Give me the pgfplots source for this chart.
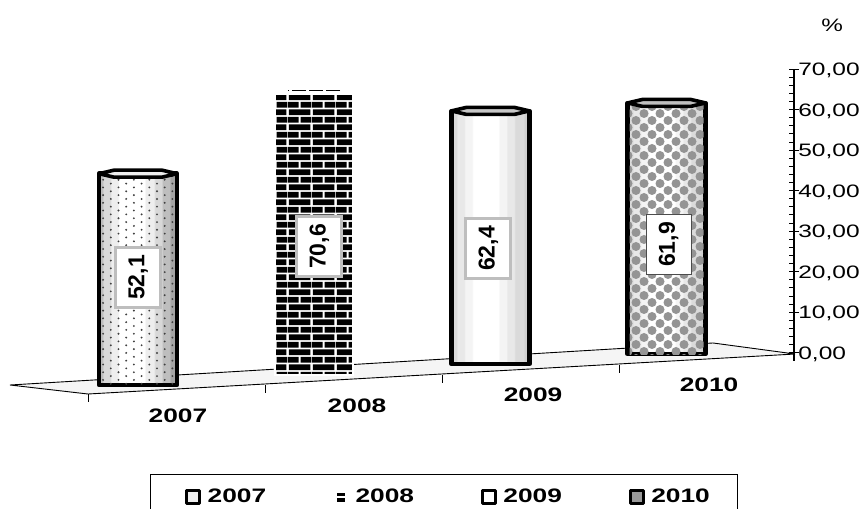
\documentclass[border=0pt]{standalone}
\usepackage{fontspec}
\setmainfont{Liberation Sans}
\usepackage{pgfplots}
\pgfplotsset{compat=1.18}
\usetikzlibrary{patterns}

\definecolor{floorgray}{HTML}{F5F5F5}
\definecolor{labelgray}{HTML}{BEBEBE}
\definecolor{c1}{HTML}{BEBEBE}
\definecolor{c2}{HTML}{D8D8D8}
\definecolor{c3}{HTML}{EEEEEE}
\definecolor{c4}{HTML}{A4A4A4}
\definecolor{d1}{HTML}{DADADA}
\definecolor{d2}{HTML}{E8E8E8}
\definecolor{d3}{HTML}{F4F4F4}
\definecolor{d4}{HTML}{D0D0D0}

% stepped shading of the cylinders
\pgfdeclarehorizontalshading{dotband}{100bp}{color(0bp)=(c1); color(27bp)=(c1); color(28bp)=(c2); color(32bp)=(c2); color(33bp)=(c3); color(37bp)=(c3); color(38bp)=(white); color(54bp)=(white); color(55bp)=(c3); color(60bp)=(c3); color(61bp)=(c2); color(65bp)=(c2); color(66bp)=(c1); color(70bp)=(c1); color(71bp)=(c4); color(100bp)=(c4)}
\pgfdeclarehorizontalshading{plainband}{100bp}{color(0bp)=(d1); color(28bp)=(d1); color(29bp)=(d2); color(33bp)=(d2); color(34bp)=(d3); color(38bp)=(d3); color(39bp)=(white); color(55bp)=(white); color(56bp)=(d3); color(60bp)=(d3); color(61bp)=(d2); color(65bp)=(d2); color(66bp)=(d1); color(71bp)=(d1); color(72bp)=(d4); color(100bp)=(d4)}

\pgfdeclarepatternformonly{bardots}{\pgfqpoint{0pt}{0pt}}{\pgfqpoint{15.4pt}{15.4pt}}{\pgfqpoint{15.4pt}{7.7pt}}{
  \pgfpathcircle{\pgfqpoint{3pt}{2pt}}{1.05pt}
  \pgfpathcircle{\pgfqpoint{10.7pt}{5.85pt}}{1.05pt}
  \pgfusepath{fill}}
\pgfdeclarepatternformonly{barbricks}{\pgfqpoint{0pt}{0pt}}{\pgfqpoint{24pt}{15.4pt}}{\pgfqpoint{24pt}{15.4pt}}{
  \pgfpathrectangle{\pgfqpoint{1pt}{0.9pt}}{\pgfqpoint{22pt}{5.9pt}}
  \pgfpathrectangle{\pgfqpoint{0pt}{8.6pt}}{\pgfqpoint{11pt}{5.9pt}}
  \pgfpathrectangle{\pgfqpoint{13pt}{8.6pt}}{\pgfqpoint{11pt}{5.9pt}}
  \pgfusepath{fill}}
\pgfdeclarepatternformonly{barballs}{\pgfqpoint{-8pt}{-7pt}}{\pgfqpoint{24pt}{21pt}}{\pgfqpoint{16pt}{14pt}}{
  \pgfpathcircle{\pgfqpoint{4pt}{3.5pt}}{4.5pt}
  \pgfpathcircle{\pgfqpoint{12pt}{10.5pt}}{4.5pt}
  \pgfusepath{fill}}

% top of a cylinder
\pgfdeclareplotmark{rimtop}{
  \pgfpathmoveto{\pgfqpoint{-39pt}{0pt}}
  \pgfpathlineto{\pgfqpoint{-24pt}{3.5pt}}
  \pgfpathlineto{\pgfqpoint{24pt}{3.5pt}}
  \pgfpathlineto{\pgfqpoint{39pt}{0pt}}
  \pgfpathlineto{\pgfqpoint{24pt}{-3.5pt}}
  \pgfpathlineto{\pgfqpoint{-24pt}{-3.5pt}}
  \pgfpathclose
  \pgfusepathqfillstroke}
\pgfdeclareplotmark{rimblank}{
  \pgfpathrectangle{\pgfqpoint{-41pt}{-3.5pt}}{\pgfqpoint{82pt}{7pt}}
  \pgfusepathqfill}

\newcommand{\wide}[1]{\scalebox{1.35}[1]{#1}}

\pgfplotsset{
  cyl/.style={ybar, bar width=78pt, bar shift=0pt, forget plot},
  cylpat/.style={ybar, bar width=74pt, bar shift=0pt, forget plot, draw=none},
  rim/.style={only marks, forget plot, mark=rimtop,
    mark options={solid, draw=black, fill=#1, line width=3.6pt, line join=round}},
  legsq/.style={legend image code/.code={
    \draw[line width=2.6pt, line join=round, fill=#1] (0pt,-6.5pt) rectangle (13pt,6.5pt);
    \path[draw=none, fill=none] (-10.3pt,0pt) -- (19pt,0pt);}},
}
\tikzset{
  val/.style={rotate=90, draw=labelgray, line width=3pt, fill=white, minimum width=60pt, minimum height=45pt,
    inner sep=0pt, font=\fontsize{23}{23}\selectfont\bfseries},
  cat/.style={xscale=1.35, font=\fontsize{19.5}{20}\selectfont\bfseries},
}

\begin{document}
\begin{tikzpicture}
\useasboundingbox (0,0) rectangle (863pt,509pt);

\begin{axis}[
  at={(0pt,0pt)}, anchor=south west,
  scale only axis, width=863pt, height=509pt,
  xmin=-0.7832, xmax=4.1146, ymin=-38.46, ymax=87.03,
  hide axis, clip=false,
  legend columns=4,
  legend cell align=left,
  legend style={
    at={(0.1738,0.0688)}, anchor=north west,
    draw=black, line width=0.8pt,
    inner xsep=26pt, inner ysep=13pt,
    font=\fontsize{19.5}{20}\selectfont\bfseries,
    /tikz/every even column/.append style={column sep=56pt},
  },
]
% floor
\addplot[draw=black, line width=0.9pt, fill=floorgray, forget plot] coordinates {
  (-0.7265,-7.89) (-0.2838,-10.11) (3.7287,-0.25) (3.2630,2.47) (-0.7265,-7.89)};
\addplot[only marks, mark=|, mark size=4pt, mark options={black, line width=0.8pt}, forget plot] coordinates {
  (-0.2838,-11.09) (0.7208,-8.88) (1.7253,-6.41) (2.7298,-3.94)};

% 2007
\addplot[cyl, yshift=-32pt, draw=black, line width=4.4pt, line join=round, shading=dotband] coordinates {(0,52.1)};
\addplot[cylpat, yshift=-32pt, pattern=bardots, pattern color=black!75] coordinates {(0,52.1)};
\addplot[rim=c3, yshift=-32pt] coordinates {(0,52.1)};

% 2008
\addplot[cyl, yshift=-22pt, draw=white, line width=1.5pt, fill=white, postaction={pattern=barbricks, pattern color=black}] coordinates {(1,70.6)};
\addplot[only marks, forget plot, yshift=-24.5pt, mark=rimblank, mark options={solid, fill=white, draw=none}] coordinates {(1,70.6)};
\addplot[only marks, forget plot, yshift=-23.4pt, mark=-, mark size=26pt, mark options={black, line width=0.9pt, dash pattern=on 14pt off 3pt}] coordinates {(1,70.6)};

% 2009
\addplot[cyl, yshift=-11pt, draw=black, line width=4.4pt, line join=round, shading=plainband] coordinates {(2,62.4)};
\addplot[rim=black!22, yshift=-11pt] coordinates {(2,62.4)};

% 2010
\addplot[cyl, yshift=-1pt, draw=black, line width=4.4pt, line join=round, shading=plainband] coordinates {(3,61.9)};
\addplot[cylpat, yshift=-1pt, pattern=barballs, pattern color=black!42] coordinates {(3,61.9)};
\addplot[rim=black!25, yshift=-1pt] coordinates {(3,61.9)};

% legend
\addlegendimage{legsq=c3}
\addlegendentry{\wide{2007}}
\addlegendimage{legend image code/.code={
  \fill[black] (3pt,-4pt) rectangle (10pt,4pt);
  \fill[white] (3pt,-0.6pt) rectangle (10pt,0.6pt);
  \path[draw=none, fill=none] (-10.3pt,0pt) -- (19pt,0pt);}}
\addlegendentry{\wide{2008}}
\addlegendimage{legsq=white}
\addlegendentry{\wide{2009}}
\addlegendimage{legsq=black!40}
\addlegendentry{\wide{2010}}

% value labels
\node[val] at (axis cs:0,18.61) {52,1};
\node[val] at (axis cs:1.03,26.26) {70,6};
\node[val] at (axis cs:1.989,25.77) {62,4};
\node[val, draw=black!70, line width=1pt] at (axis cs:3.011,26.76) {61,9};

% categories on the tilted floor
\node[cat] at (axis cs:0.227,-15.53) {2007};
\node[cat] at (axis cs:1.243,-12.94) {2008};
\node[cat] at (axis cs:2.242,-10.36) {2009};
\node[cat] at (axis cs:3.241,-7.89) {2010};

\node[xscale=1.35, font=\fontsize{18}{18}\selectfont] at (axis cs:3.939,80.87) {\%};
\end{axis}

% value scale on the right
\begin{axis}[
  at={(0pt,148pt)}, anchor=south west,
  scale only axis, width=794pt, height=292pt,
  xmin=0, xmax=1, ymin=-2, ymax=70,
  axis x line=none, axis y line=right,
  axis line style={-, line width=1.2pt},
  ytick={0,10,...,70}, minor y tick num=4,
  tick align=inside,
  major tick length=5pt, minor tick length=5pt,
  every tick/.style={black, line width=1pt},
  extra y ticks={0,10,...,70}, extra y tick labels={},
  extra tick style={tick align=outside, major tick length=5pt},
  yticklabel style={
    xscale=1.36, anchor=west, xshift=0pt, yshift=-1.5pt, inner xsep=3pt,
    font=\fontsize{18}{18}\selectfont,
    /pgf/number format/.cd, fixed, fixed zerofill, precision=2, use comma, assume math mode=true,
  },
]
\addplot[draw=none, forget plot] coordinates {(1,0) (1,70)};
\end{axis}
\end{tikzpicture}
\end{document}
